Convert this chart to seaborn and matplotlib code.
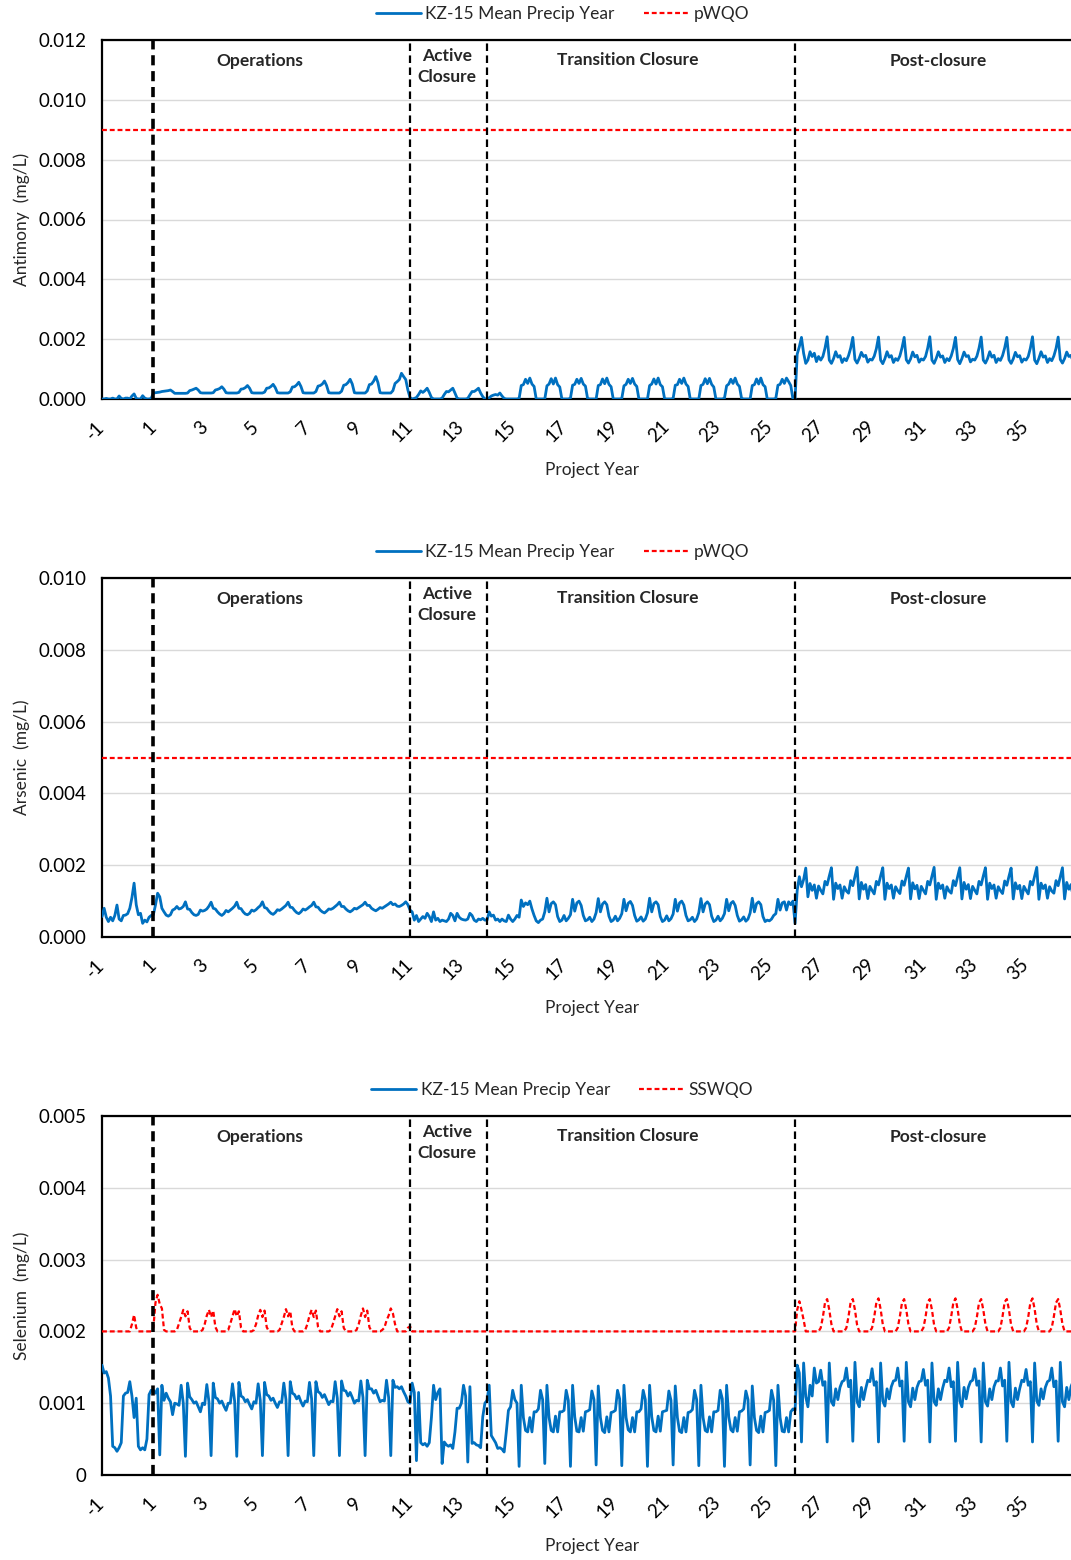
import numpy as np
import pandas as pd
import matplotlib
matplotlib.use('Agg')
import matplotlib.pyplot as plt
import matplotlib.transforms as mtransforms
import seaborn as sns

# KZ-15 monthly model output in ug/L, one row per project year (month 1..12)
# rows: pre-ops (-1, 0), operations (1-10), active closure (11-13),
# transition closure (14-25), post-closure (26-36)

sb_pre = [
    [0.00, 0.00, 0.02, 0.00, 0.00, 0.03, 0.00, 0.00, 0.10, 0.02, 0.00, 0.03],
    [0.03, 0.00, 0.10, 0.17, 0.02, 0.00, 0.00, 0.11, 0.03, 0.00, 0.00, 0.02],
]
sb_ops = [
    [0.20, 0.21, 0.22, 0.23, 0.25, 0.26, 0.27, 0.28, 0.30, 0.25, 0.19, 0.19],
    [0.19, 0.19, 0.19, 0.19, 0.20, 0.28, 0.30, 0.33, 0.36, 0.30, 0.21, 0.20],
    [0.20, 0.20, 0.20, 0.20, 0.21, 0.30, 0.32, 0.35, 0.41, 0.33, 0.21, 0.20],
    [0.20, 0.20, 0.20, 0.20, 0.22, 0.33, 0.34, 0.38, 0.45, 0.36, 0.21, 0.20],
    [0.20, 0.20, 0.20, 0.20, 0.23, 0.36, 0.37, 0.42, 0.49, 0.38, 0.21, 0.20],
    [0.20, 0.20, 0.20, 0.20, 0.24, 0.40, 0.41, 0.47, 0.56, 0.42, 0.21, 0.20],
    [0.20, 0.20, 0.20, 0.20, 0.25, 0.43, 0.45, 0.50, 0.60, 0.45, 0.21, 0.20],
    [0.20, 0.20, 0.20, 0.20, 0.26, 0.46, 0.48, 0.55, 0.66, 0.50, 0.21, 0.20],
    [0.20, 0.20, 0.20, 0.20, 0.27, 0.48, 0.50, 0.60, 0.75, 0.55, 0.21, 0.20],
    [0.20, 0.20, 0.20, 0.20, 0.28, 0.52, 0.58, 0.65, 0.86, 0.75, 0.65, 0.30],
]
sb_active = [
    [0.05, 0.00, 0.02, 0.05, 0.15, 0.27, 0.22, 0.28, 0.36, 0.22, 0.05, 0.00],
    [0.00, 0.00, 0.00, 0.03, 0.15, 0.25, 0.24, 0.30, 0.36, 0.20, 0.03, 0.00],
    [0.00, 0.00, 0.00, 0.02, 0.14, 0.25, 0.25, 0.30, 0.36, 0.20, 0.08, 0.00],
]
sb_trans = [
    [0.00, 0.04, 0.10, 0.13, 0.15, 0.13, 0.20, 0.10, 0.02, 0.00, 0.00, 0.00],
    [0.00, 0.00, 0.00, 0.02, 0.45, 0.48, 0.66, 0.52, 0.70, 0.50, 0.42, 0.00],
    [0.00, 0.00, 0.00, 0.00, 0.44, 0.50, 0.68, 0.50, 0.70, 0.48, 0.40, 0.00],
    [0.00, 0.00, 0.00, 0.03, 0.46, 0.49, 0.66, 0.52, 0.69, 0.50, 0.43, 0.02],
    [0.00, 0.00, 0.00, 0.00, 0.45, 0.48, 0.67, 0.51, 0.70, 0.49, 0.41, 0.00],
    [0.00, 0.00, 0.00, 0.02, 0.44, 0.49, 0.66, 0.52, 0.69, 0.50, 0.42, 0.00],
    [0.00, 0.00, 0.00, 0.00, 0.45, 0.50, 0.67, 0.50, 0.70, 0.48, 0.41, 0.01],
    [0.00, 0.00, 0.00, 0.02, 0.46, 0.48, 0.66, 0.52, 0.70, 0.50, 0.42, 0.00],
    [0.00, 0.00, 0.00, 0.00, 0.45, 0.49, 0.68, 0.51, 0.69, 0.49, 0.40, 0.00],
    [0.00, 0.00, 0.00, 0.03, 0.44, 0.50, 0.66, 0.52, 0.70, 0.50, 0.42, 0.02],
    [0.00, 0.00, 0.00, 0.00, 0.45, 0.48, 0.67, 0.50, 0.70, 0.48, 0.41, 0.00],
    [0.00, 0.00, 0.00, 0.02, 0.46, 0.49, 0.66, 0.52, 0.70, 0.58, 0.45, 0.00],
]
sb_post = [
    [0.00, 1.50, 1.75, 2.06, 1.53, 1.19, 1.30, 1.58, 1.42, 1.53, 1.25, 1.42],
    [1.30, 1.42, 1.70, 2.08, 1.30, 1.19, 1.35, 1.58, 1.40, 1.45, 1.22, 1.35],
    [1.28, 1.45, 1.70, 2.06, 1.32, 1.20, 1.36, 1.56, 1.42, 1.46, 1.23, 1.33],
    [1.30, 1.43, 1.68, 2.07, 1.30, 1.18, 1.35, 1.58, 1.40, 1.45, 1.22, 1.35],
    [1.29, 1.44, 1.71, 2.06, 1.31, 1.20, 1.34, 1.57, 1.41, 1.46, 1.23, 1.34],
    [1.30, 1.42, 1.70, 2.08, 1.30, 1.19, 1.36, 1.58, 1.40, 1.44, 1.22, 1.35],
    [1.28, 1.44, 1.69, 2.06, 1.32, 1.18, 1.35, 1.57, 1.42, 1.45, 1.24, 1.33],
    [1.30, 1.43, 1.70, 2.07, 1.30, 1.20, 1.35, 1.58, 1.40, 1.46, 1.22, 1.35],
    [1.29, 1.45, 1.71, 2.06, 1.31, 1.19, 1.34, 1.56, 1.41, 1.45, 1.23, 1.34],
    [1.30, 1.42, 1.70, 2.08, 1.30, 1.18, 1.36, 1.58, 1.40, 1.44, 1.22, 1.35],
    [1.28, 1.44, 1.69, 2.07, 1.32, 1.20, 1.35, 1.57, 1.42, 1.46, 1.23, 1.33],
]

as_pre = [
    [0.57, 0.80, 0.55, 0.43, 0.55, 0.45, 0.60, 0.89, 0.50, 0.45, 0.60, 0.61],
    [0.65, 0.80, 1.10, 1.50, 0.90, 0.62, 0.66, 0.38, 0.47, 0.42, 0.55, 0.60],
]
as_ops = [
    [0.62, 0.89, 1.22, 1.12, 0.80, 0.70, 0.61, 0.58, 0.62, 0.75, 0.78, 0.85],
    [0.78, 0.80, 0.85, 0.98, 0.78, 0.77, 0.68, 0.62, 0.60, 0.63, 0.75, 0.72],
    [0.74, 0.78, 0.86, 0.97, 0.80, 0.78, 0.70, 0.64, 0.60, 0.65, 0.74, 0.70],
    [0.75, 0.80, 0.86, 0.97, 0.80, 0.79, 0.70, 0.64, 0.62, 0.66, 0.75, 0.72],
    [0.76, 0.82, 0.87, 0.98, 0.82, 0.80, 0.72, 0.66, 0.63, 0.68, 0.76, 0.74],
    [0.78, 0.83, 0.88, 0.97, 0.83, 0.82, 0.74, 0.68, 0.65, 0.70, 0.78, 0.75],
    [0.79, 0.84, 0.88, 0.97, 0.84, 0.83, 0.75, 0.70, 0.67, 0.72, 0.78, 0.77],
    [0.80, 0.85, 0.90, 0.97, 0.85, 0.85, 0.78, 0.73, 0.70, 0.74, 0.80, 0.78],
    [0.82, 0.86, 0.90, 0.97, 0.88, 0.88, 0.80, 0.76, 0.73, 0.77, 0.82, 0.80],
    [0.84, 0.88, 0.92, 0.97, 0.90, 0.92, 0.86, 0.85, 0.88, 0.92, 0.98, 0.90],
]
as_active = [
    [0.75, 0.70, 0.47, 0.60, 0.43, 0.50, 0.57, 0.52, 0.66, 0.57, 0.43, 0.70],
    [0.47, 0.52, 0.43, 0.47, 0.45, 0.43, 0.50, 0.66, 0.60, 0.45, 0.66, 0.55],
    [0.50, 0.48, 0.47, 0.50, 0.66, 0.60, 0.47, 0.43, 0.50, 0.48, 0.52, 0.47],
]
as_trans = [
    [0.47, 0.70, 0.58, 0.61, 0.47, 0.50, 0.43, 0.50, 0.45, 0.43, 0.61, 0.50],
    [0.43, 0.50, 0.60, 0.55, 1.03, 0.85, 0.95, 0.90, 1.00, 0.78, 0.60, 0.45],
    [0.40, 0.47, 0.50, 0.70, 1.08, 0.70, 0.93, 0.98, 0.90, 0.57, 0.43, 0.47],
    [0.60, 0.45, 0.52, 0.62, 1.05, 0.72, 0.95, 1.00, 0.88, 0.60, 0.45, 0.48],
    [0.55, 0.43, 0.50, 0.68, 1.07, 0.70, 0.92, 0.98, 0.90, 0.58, 0.43, 0.47],
    [0.58, 0.45, 0.52, 0.65, 1.05, 0.73, 0.94, 0.99, 0.88, 0.60, 0.44, 0.48],
    [0.56, 0.44, 0.50, 0.67, 1.08, 0.70, 0.93, 0.98, 0.90, 0.57, 0.43, 0.47],
    [0.59, 0.45, 0.51, 0.64, 1.05, 0.72, 0.95, 1.00, 0.89, 0.60, 0.45, 0.48],
    [0.55, 0.43, 0.50, 0.68, 1.07, 0.70, 0.92, 0.98, 0.90, 0.58, 0.43, 0.47],
    [0.58, 0.45, 0.52, 0.65, 1.05, 0.73, 0.94, 0.99, 0.88, 0.60, 0.44, 0.48],
    [0.56, 0.44, 0.50, 0.67, 1.08, 0.70, 0.93, 0.98, 0.90, 0.57, 0.43, 0.47],
    [0.45, 0.50, 0.60, 0.65, 1.05, 0.75, 0.95, 0.98, 0.75, 0.98, 0.90, 1.00],
]
as_post = [
    [0.38, 1.30, 1.68, 1.40, 1.60, 1.92, 1.12, 1.49, 1.30, 1.45, 1.08, 1.42],
    [1.30, 1.20, 1.55, 1.45, 1.70, 1.93, 1.05, 1.50, 1.35, 1.45, 1.08, 1.40],
    [1.28, 1.22, 1.57, 1.43, 1.68, 1.94, 1.06, 1.52, 1.33, 1.46, 1.07, 1.41],
    [1.30, 1.20, 1.55, 1.45, 1.70, 1.93, 1.05, 1.50, 1.35, 1.45, 1.08, 1.40],
    [1.29, 1.21, 1.56, 1.44, 1.69, 1.92, 1.06, 1.51, 1.34, 1.44, 1.07, 1.41],
    [1.30, 1.20, 1.55, 1.45, 1.70, 1.94, 1.05, 1.50, 1.35, 1.45, 1.08, 1.40],
    [1.28, 1.22, 1.57, 1.43, 1.68, 1.93, 1.06, 1.52, 1.33, 1.46, 1.07, 1.41],
    [1.30, 1.20, 1.55, 1.45, 1.70, 1.93, 1.05, 1.50, 1.35, 1.45, 1.08, 1.40],
    [1.29, 1.21, 1.56, 1.44, 1.69, 1.92, 1.06, 1.51, 1.34, 1.44, 1.07, 1.41],
    [1.30, 1.20, 1.55, 1.45, 1.70, 1.94, 1.05, 1.50, 1.35, 1.45, 1.08, 1.40],
    [1.28, 1.22, 1.57, 1.43, 1.68, 1.93, 1.06, 1.52, 1.33, 1.46, 1.07, 1.41],
]

se_pre = [
    [1.53, 1.42, 1.44, 1.35, 1.10, 0.40, 0.38, 0.33, 0.38, 0.45, 1.10, 1.14],
    [1.15, 1.30, 1.10, 0.80, 1.07, 0.40, 0.35, 0.38, 0.35, 0.50, 1.12, 1.18],
]
se_ops = [
    [1.18, 1.14, 1.20, 0.28, 1.25, 1.04, 1.14, 1.07, 1.02, 0.84, 1.00, 0.99],
    [0.97, 1.25, 1.00, 0.26, 1.28, 1.09, 1.05, 1.00, 1.02, 0.95, 0.88, 1.00],
    [0.98, 1.26, 1.02, 0.27, 1.28, 1.08, 1.06, 1.00, 1.03, 0.96, 0.90, 1.00],
    [1.00, 1.27, 1.03, 0.26, 1.29, 1.10, 1.08, 1.02, 1.05, 0.98, 0.92, 1.02],
    [1.00, 1.27, 1.04, 0.27, 1.29, 1.12, 1.10, 1.04, 1.07, 1.00, 0.94, 1.02],
    [1.01, 1.28, 1.05, 0.27, 1.30, 1.14, 1.12, 1.06, 1.10, 1.02, 0.96, 1.03],
    [1.02, 1.29, 1.06, 0.27, 1.30, 1.16, 1.14, 1.08, 1.12, 1.05, 0.98, 1.03],
    [1.02, 1.30, 1.07, 0.27, 1.31, 1.18, 1.17, 1.10, 1.15, 1.08, 1.00, 1.04],
    [1.03, 1.31, 1.08, 0.27, 1.32, 1.20, 1.20, 1.14, 1.18, 1.10, 1.02, 1.04],
    [1.03, 1.32, 1.08, 0.27, 1.32, 1.22, 1.23, 1.20, 1.23, 1.16, 1.10, 1.02],
]
se_active = [
    [1.00, 1.28, 1.15, 0.20, 1.15, 0.45, 0.42, 0.44, 0.40, 0.45, 0.80, 1.25],
    [1.05, 1.15, 1.20, 0.16, 0.46, 0.42, 0.40, 0.42, 0.37, 0.60, 0.93, 0.93],
    [1.00, 1.25, 1.10, 0.18, 1.23, 0.44, 0.45, 0.42, 0.41, 0.38, 0.81, 1.00],
]
se_trans = [
    [1.04, 1.25, 0.55, 0.50, 0.45, 0.37, 0.38, 0.36, 0.32, 0.60, 0.90, 0.95],
    [1.18, 1.05, 1.00, 0.12, 1.25, 0.80, 0.62, 0.60, 0.80, 0.60, 0.88, 0.88],
    [0.92, 1.18, 1.05, 0.16, 1.25, 0.80, 0.62, 0.60, 0.82, 0.60, 0.88, 0.88],
    [0.90, 1.18, 1.04, 0.12, 1.25, 0.81, 0.61, 0.60, 0.80, 0.61, 0.88, 0.89],
    [0.91, 1.17, 1.05, 0.14, 1.24, 0.80, 0.62, 0.59, 0.81, 0.60, 0.87, 0.88],
    [0.90, 1.18, 1.06, 0.13, 1.25, 0.80, 0.63, 0.60, 0.80, 0.60, 0.88, 0.88],
    [0.92, 1.18, 1.05, 0.12, 1.25, 0.81, 0.62, 0.60, 0.82, 0.61, 0.88, 0.89],
    [0.90, 1.17, 1.04, 0.14, 1.24, 0.80, 0.61, 0.59, 0.80, 0.60, 0.87, 0.88],
    [0.91, 1.18, 1.05, 0.13, 1.25, 0.80, 0.62, 0.60, 0.81, 0.60, 0.88, 0.88],
    [0.90, 1.18, 1.06, 0.12, 1.25, 0.81, 0.63, 0.60, 0.80, 0.61, 0.88, 0.89],
    [0.92, 1.17, 1.05, 0.14, 1.24, 0.80, 0.62, 0.59, 0.82, 0.60, 0.87, 0.88],
    [0.90, 1.18, 1.04, 0.13, 1.25, 0.80, 0.61, 0.60, 0.80, 0.60, 0.88, 0.92],
]
se_post = [
    [0.90, 1.53, 1.42, 0.46, 1.56, 1.09, 0.95, 1.25, 1.10, 1.49, 1.28, 1.30],
    [1.46, 1.25, 1.30, 0.46, 1.56, 1.02, 0.97, 1.20, 1.05, 1.22, 1.30, 1.32],
    [1.49, 1.23, 1.32, 0.47, 1.57, 1.02, 0.95, 1.22, 1.05, 1.20, 1.32, 1.30],
    [1.48, 1.25, 1.30, 0.46, 1.56, 1.03, 0.96, 1.20, 1.06, 1.23, 1.31, 1.32],
    [1.49, 1.24, 1.31, 0.47, 1.57, 1.02, 0.95, 1.21, 1.05, 1.22, 1.30, 1.31],
    [1.47, 1.25, 1.32, 0.46, 1.56, 1.02, 0.97, 1.20, 1.05, 1.21, 1.32, 1.30],
    [1.49, 1.23, 1.30, 0.47, 1.57, 1.03, 0.95, 1.22, 1.06, 1.22, 1.30, 1.32],
    [1.48, 1.25, 1.31, 0.46, 1.56, 1.02, 0.96, 1.20, 1.05, 1.23, 1.31, 1.31],
    [1.49, 1.24, 1.32, 0.47, 1.57, 1.02, 0.95, 1.21, 1.05, 1.20, 1.32, 1.30],
    [1.47, 1.25, 1.30, 0.46, 1.56, 1.03, 0.97, 1.20, 1.06, 1.22, 1.30, 1.32],
    [1.49, 1.23, 1.31, 0.47, 1.57, 1.02, 0.95, 1.22, 1.05, 1.23, 1.31, 1.30],
]

# site-specific selenium objective (ug/L), monthly
ss_pre = [
    [2.00, 2.00, 2.00, 2.00, 2.00, 2.00, 2.00, 2.00, 2.00, 2.00, 2.00, 2.00],
    [2.00, 2.00, 2.10, 2.23, 2.05, 2.00, 2.00, 2.00, 2.00, 2.00, 2.00, 2.00],
]
ss_ops = [
    [2.05, 2.40, 2.51, 2.38, 2.32, 2.02, 2.00, 2.00, 2.00, 2.00, 2.00, 2.02],
    [2.11, 2.20, 2.30, 2.21, 2.28, 2.05, 2.00, 2.00, 2.00, 2.00, 2.00, 2.02],
    [2.10, 2.22, 2.30, 2.20, 2.29, 2.06, 2.00, 2.00, 2.00, 2.00, 2.00, 2.02],
    [2.11, 2.21, 2.31, 2.21, 2.28, 2.05, 2.00, 2.00, 2.00, 2.00, 2.00, 2.02],
    [2.10, 2.22, 2.30, 2.20, 2.29, 2.06, 2.00, 2.00, 2.00, 2.00, 2.00, 2.02],
    [2.11, 2.20, 2.31, 2.21, 2.28, 2.05, 2.00, 2.00, 2.00, 2.00, 2.00, 2.02],
    [2.10, 2.22, 2.30, 2.20, 2.29, 2.06, 2.00, 2.00, 2.00, 2.00, 2.00, 2.02],
    [2.11, 2.21, 2.31, 2.21, 2.28, 2.05, 2.00, 2.00, 2.00, 2.00, 2.00, 2.02],
    [2.10, 2.22, 2.32, 2.20, 2.29, 2.06, 2.00, 2.00, 2.00, 2.00, 2.00, 2.02],
    [2.05, 2.15, 2.22, 2.32, 2.25, 2.10, 2.00, 2.00, 2.00, 2.00, 2.00, 2.05],
]
ss_closure = [
    [2.07, 2.00, 2.00, 2.00, 2.00, 2.00, 2.00, 2.00, 2.00, 2.00, 2.00, 2.00],
    [2.00, 2.00, 2.00, 2.00, 2.00, 2.00, 2.00, 2.00, 2.00, 2.00, 2.00, 2.00],
    [2.00, 2.00, 2.00, 2.00, 2.00, 2.00, 2.00, 2.00, 2.00, 2.00, 2.00, 2.00],
    [2.00, 2.00, 2.00, 2.00, 2.00, 2.00, 2.00, 2.00, 2.00, 2.00, 2.00, 2.00],
    [2.00, 2.00, 2.00, 2.00, 2.00, 2.00, 2.00, 2.00, 2.00, 2.00, 2.00, 2.00],
    [2.00, 2.00, 2.00, 2.00, 2.00, 2.00, 2.00, 2.00, 2.00, 2.00, 2.00, 2.00],
    [2.00, 2.00, 2.00, 2.00, 2.00, 2.00, 2.00, 2.00, 2.00, 2.00, 2.00, 2.00],
    [2.00, 2.00, 2.00, 2.00, 2.00, 2.00, 2.00, 2.00, 2.00, 2.00, 2.00, 2.00],
    [2.00, 2.00, 2.00, 2.00, 2.00, 2.00, 2.00, 2.00, 2.00, 2.00, 2.00, 2.00],
    [2.00, 2.00, 2.00, 2.00, 2.00, 2.00, 2.00, 2.00, 2.00, 2.00, 2.00, 2.00],
    [2.00, 2.00, 2.00, 2.00, 2.00, 2.00, 2.00, 2.00, 2.00, 2.00, 2.00, 2.00],
    [2.00, 2.00, 2.00, 2.00, 2.00, 2.00, 2.00, 2.00, 2.00, 2.00, 2.00, 2.00],
    [2.00, 2.00, 2.00, 2.00, 2.00, 2.00, 2.00, 2.00, 2.00, 2.00, 2.00, 2.00],
    [2.00, 2.00, 2.00, 2.00, 2.00, 2.00, 2.00, 2.00, 2.00, 2.00, 2.00, 2.00],
    [2.00, 2.00, 2.00, 2.00, 2.00, 2.00, 2.00, 2.00, 2.00, 2.00, 2.00, 2.00],
]
ss_post = [
    [2.00, 2.30, 2.42, 2.30, 2.16, 2.00, 2.00, 2.00, 2.00, 2.00, 2.00, 2.00],
    [2.05, 2.20, 2.40, 2.45, 2.30, 2.10, 2.00, 2.00, 2.00, 2.00, 2.00, 2.00],
    [2.05, 2.21, 2.41, 2.45, 2.30, 2.09, 2.00, 2.00, 2.00, 2.00, 2.00, 2.00],
    [2.05, 2.20, 2.40, 2.46, 2.31, 2.10, 2.00, 2.00, 2.00, 2.00, 2.00, 2.00],
    [2.05, 2.21, 2.40, 2.45, 2.30, 2.10, 2.00, 2.00, 2.00, 2.00, 2.00, 2.00],
    [2.05, 2.20, 2.41, 2.45, 2.30, 2.09, 2.00, 2.00, 2.00, 2.00, 2.00, 2.00],
    [2.05, 2.21, 2.40, 2.46, 2.31, 2.10, 2.00, 2.00, 2.00, 2.00, 2.00, 2.00],
    [2.05, 2.20, 2.40, 2.45, 2.30, 2.10, 2.00, 2.00, 2.00, 2.00, 2.00, 2.00],
    [2.05, 2.21, 2.41, 2.45, 2.30, 2.09, 2.00, 2.00, 2.00, 2.00, 2.00, 2.00],
    [2.05, 2.20, 2.40, 2.46, 2.31, 2.10, 2.00, 2.00, 2.00, 2.00, 2.00, 2.00],
    [2.05, 2.21, 2.40, 2.45, 2.30, 2.10, 2.00, 2.00, 2.00, 2.00, 2.00, 2.00],
]

pwqo_sb = 0.009
pwqo_as = 0.005

phase_lines = [1, 11, 14, 26]
phase_names = ['Operations', 'Active\nClosure', 'Transition Closure', 'Post-closure']
first_year = -1


def monthly(*blocks):
    return np.concatenate([np.ravel(np.array(b)) for b in blocks]) / 1000.0


antimony = monthly(sb_pre, sb_ops, sb_active, sb_trans, sb_post)
arsenic = monthly(as_pre, as_ops, as_active, as_trans, as_post)
selenium = monthly(se_pre, se_ops, se_active, se_trans, se_post)
sswqo = monthly(ss_pre, ss_ops, ss_closure, ss_post)
months = first_year + np.arange(len(antimony)) / 12.0

BLUE = '#0070C0'
RED = '#FF0000'

sns.set_style('white')
plt.rcParams['font.family'] = ['Lato', 'DejaVu Sans']

W, H = 1071, 1560
fig = plt.figure(figsize=(W / 100, H / 100), dpi=100)

panels = [
    dict(top=40, label='Antimony  (mg/L)', conc=antimony, ymax=0.012, step=0.002,
         obj=pwqo_sb, obj_name='pWQO', fmt=lambda v: f'{v:.3f}'),
    dict(top=578, label='Arsenic  (mg/L)', conc=arsenic, ymax=0.010, step=0.002,
         obj=pwqo_as, obj_name='pWQO', fmt=lambda v: f'{v:.3f}'),
    dict(top=1116, label='Selenium  (mg/L)', conc=selenium, ymax=0.005, step=0.001,
         obj=sswqo, obj_name='SSWQO', fmt=lambda v: '0' if v == 0 else f'{v:.3f}'),
]

ax_h = 359
left = 102
fs = 12.5
tfs = 13.5

for p in panels:
    ax = fig.add_axes([left / W, 1 - (p['top'] + ax_h) / H, 1 - left / W, ax_h / H])
    df = pd.DataFrame({'Project Year': months, 'conc': p['conc']})
    sns.lineplot(data=df, x='Project Year', y='conc', ax=ax, color=BLUE, lw=2.0,
                 label='KZ-15 Mean Precip Year', zorder=3)
    if np.ndim(p['obj']) == 0:
        ax.axhline(p['obj'], color=RED, lw=1.6, ls=(0, (2.2, 1.3)), label=p['obj_name'], zorder=3)
    else:
        sns.lineplot(x=months, y=p['obj'], ax=ax, color=RED, lw=1.6, ls=(0, (2.2, 1.3)),
                     label=p['obj_name'], zorder=3)

    for x in phase_lines:
        if x == 1:
            ax.axvline(x, color='black', lw=2.6, ls=(0, (2.8, 1.6)), zorder=4)
        else:
            ax.axvline(x, color='black', lw=1.6, ls=(0, (3.4, 2.0)), zorder=4)

    ax.set_xlim(-1, 36.75)
    ax.set_ylim(0, p['ymax'])
    yt = np.arange(0, p['ymax'] + p['step'] / 2, p['step'])
    ax.set_yticks(yt)
    ax.set_yticklabels([p['fmt'](round(v, 4)) for v in yt])
    xt = list(range(-1, 37))
    ax.set_xticks(xt)
    ax.set_xticklabels([str(v) if v % 2 else '' for v in xt], rotation=45,
                       ha='right', va='center', rotation_mode='anchor')
    ax.tick_params(axis='both', direction='out', length=6, width=1.5, color='black',
                   labelsize=tfs, labelcolor='black')
    ax.tick_params(axis='x', pad=12)
    ax.tick_params(axis='y', pad=5)

    ax.yaxis.grid(True, color='#D9D9D9', lw=1.0, zorder=0)
    ax.xaxis.grid(False)
    ax.set_axisbelow(True)
    for side in ['left', 'bottom', 'top']:
        ax.spines[side].set_visible(True)
        ax.spines[side].set_color('black')
        ax.spines[side].set_linewidth(1.6)
    ax.spines['right'].set_visible(False)

    ax.set_ylabel(p['label'], fontsize=fs)
    ax.yaxis.set_label_coords(-0.074, 0.5)
    ax.set_xlabel('Project Year', fontsize=fs)
    ax.xaxis.set_label_coords(0.506, -0.175)

    trans = mtransforms.blended_transform_factory(ax.transData, ax.transAxes)
    for name, xpos, ypos in zip(phase_names, [5.15, 12.43, 19.5, 31.57],
                                [0.941, 0.926, 0.944, 0.941]):
        ax.text(xpos, ypos, name, transform=trans, ha='center', va='center',
                fontsize=fs, fontweight='bold', linespacing=1.45)

    ax.legend(loc='center', bbox_to_anchor=(0.475, 1 + 26 / ax_h), ncol=2, frameon=False,
              fontsize=fs, handlelength=2.6, handletextpad=0.25, columnspacing=1.7)

fig.savefig('out.png', dpi=100)
